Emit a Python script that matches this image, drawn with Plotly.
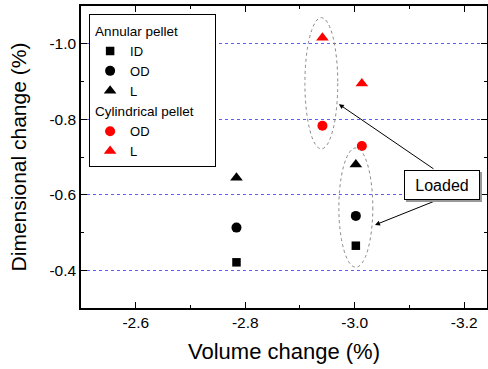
import plotly.graph_objects as go

# Data
ann_x = [-2.784, -3.002]
ann_id_y = [-0.421, -0.465]
ann_od_y = [-0.513, -0.544]
ann_l_y = [-0.645, -0.680]
cyl_x = [-2.941, -3.013]
cyl_od_y = [-0.783, -0.729]
cyl_l_y = [-1.016, -0.895]

x_ticks = [-2.6, -2.8, -3.0, -3.2]
y_ticks = [-0.4, -0.6, -0.8, -1.0]

FONT = "Liberation Sans, Arial, sans-serif"

fig = go.Figure()
fig.add_trace(go.Scatter(x=ann_x, y=ann_id_y, mode="markers", name="ID",
                         legendgroup="ann", legendgrouptitle_text="Annular pellet",
                         marker=dict(symbol="square", size=8.5, color="black")))
fig.add_trace(go.Scatter(x=ann_x, y=ann_od_y, mode="markers", name="OD",
                         legendgroup="ann",
                         marker=dict(symbol="circle", size=10, color="black")))
fig.add_trace(go.Scatter(x=ann_x, y=ann_l_y, mode="markers", name="L",
                         legendgroup="ann",
                         marker=dict(symbol="triangle-up", size=11, color="black")))
fig.add_trace(go.Scatter(x=cyl_x, y=cyl_od_y, mode="markers", name="OD",
                         legendgroup="cyl",
                         legendgrouptitle_text="Cylindrical pellet\u00a0\u00a0\u00a0\u200b",
                         marker=dict(symbol="circle", size=10, color="red")))
fig.add_trace(go.Scatter(x=cyl_x, y=cyl_l_y, mode="markers", name="L",
                         legendgroup="cyl",
                         marker=dict(symbol="triangle-up", size=11, color="red")))

# Dotted ellipses around loaded points
fig.add_shape(type="circle", xref="x", yref="y", x0=-2.909, x1=-2.969, y0=-1.069, y1=-0.7215,
              line=dict(color="#888888", width=1, dash="dot"))
fig.add_shape(type="circle", xref="x", yref="y", x0=-2.971, x1=-3.033, y0=-0.724, y1=-0.408,
              line=dict(color="#888888", width=1, dash="dot"))

# Arrows
fig.add_annotation(x=-2.971, y=-0.840, ax=-3.1466, ay=-0.666, xref="x", yref="y",
                   axref="x", ayref="y", text="", showarrow=True,
                   arrowhead=2, arrowsize=1, arrowwidth=1, arrowcolor="black")
fig.add_annotation(x=-3.037, y=-0.520, ax=-3.156, ay=-0.589, xref="x", yref="y",
                   axref="x", ayref="y", text="", showarrow=True,
                   arrowhead=2, arrowsize=1, arrowwidth=1, arrowcolor="black")

# "Loaded" box with shadow
fig.add_annotation(x=-3.159, y=-0.626, xref="x", yref="y", text="Loaded", showarrow=False,
                   font=dict(family=FONT, size=16, color="#999999"), bgcolor="#999999",
                   bordercolor="#999999", borderwidth=1, width=72, height=26,
                   xshift=2, yshift=-2)
fig.add_annotation(x=-3.159, y=-0.626, xref="x", yref="y", text="Loaded", showarrow=False,
                   font=dict(family=FONT, size=16, color="black"), bgcolor="white",
                   bordercolor="black", borderwidth=1, width=72, height=26)

fig.update_layout(
    width=488, height=369,
    margin=dict(l=81, r=1, t=6, b=61, autoexpand=False),
    paper_bgcolor="white", plot_bgcolor="white",
    font=dict(family=FONT, color="black"),
    showlegend=True,
    legend=dict(x=0.02, y=0.972, xanchor="left", yanchor="top",
                bgcolor="white", bordercolor="black", borderwidth=1,
                font=dict(size=13, family=FONT), tracegroupgap=0,
                grouptitlefont=dict(size=13.5, family=FONT),
                traceorder="grouped"),
    xaxis=dict(range=[-2.5, -3.2416], tickvals=x_ticks, ticktext=["-2.6", "-2.8", "-3.0", "-3.2"],
               ticks="inside", ticklen=6, tickwidth=1, tickcolor="black",
               minor=dict(dtick=0.1, ticks="inside", ticklen=3, tickcolor="black"),
               showline=True, linecolor="black", linewidth=1.5, mirror="ticks",
               showgrid=False, zeroline=False, automargin=False,
               tickfont=dict(size=15.5, family=FONT),
               title=dict(text="Volume change (%)", font=dict(size=22, family=FONT), standoff=13)),
    yaxis=dict(range=[-0.3, -1.1], tickvals=y_ticks, ticktext=["-0.4", "-0.6", "-0.8", "-1.0"],
               ticks="inside", ticklen=6, tickwidth=1, tickcolor="black",
               minor=dict(dtick=0.1, ticks="inside", ticklen=3, tickcolor="black", showgrid=False),
               showline=True, linecolor="black", linewidth=1.5, mirror="ticks",
               showgrid=True, gridcolor="#5c5cff", griddash="dot", gridwidth=1,
               zeroline=False, automargin=False,
               tickfont=dict(size=15.5, family=FONT),
               title=dict(text="Dimensional change (%)", font=dict(size=21, family=FONT),
                          standoff=17)),
)

fig.write_html("out.html", config={"displayModeBar": False},
               post_script="document.body.style.margin='0';")
